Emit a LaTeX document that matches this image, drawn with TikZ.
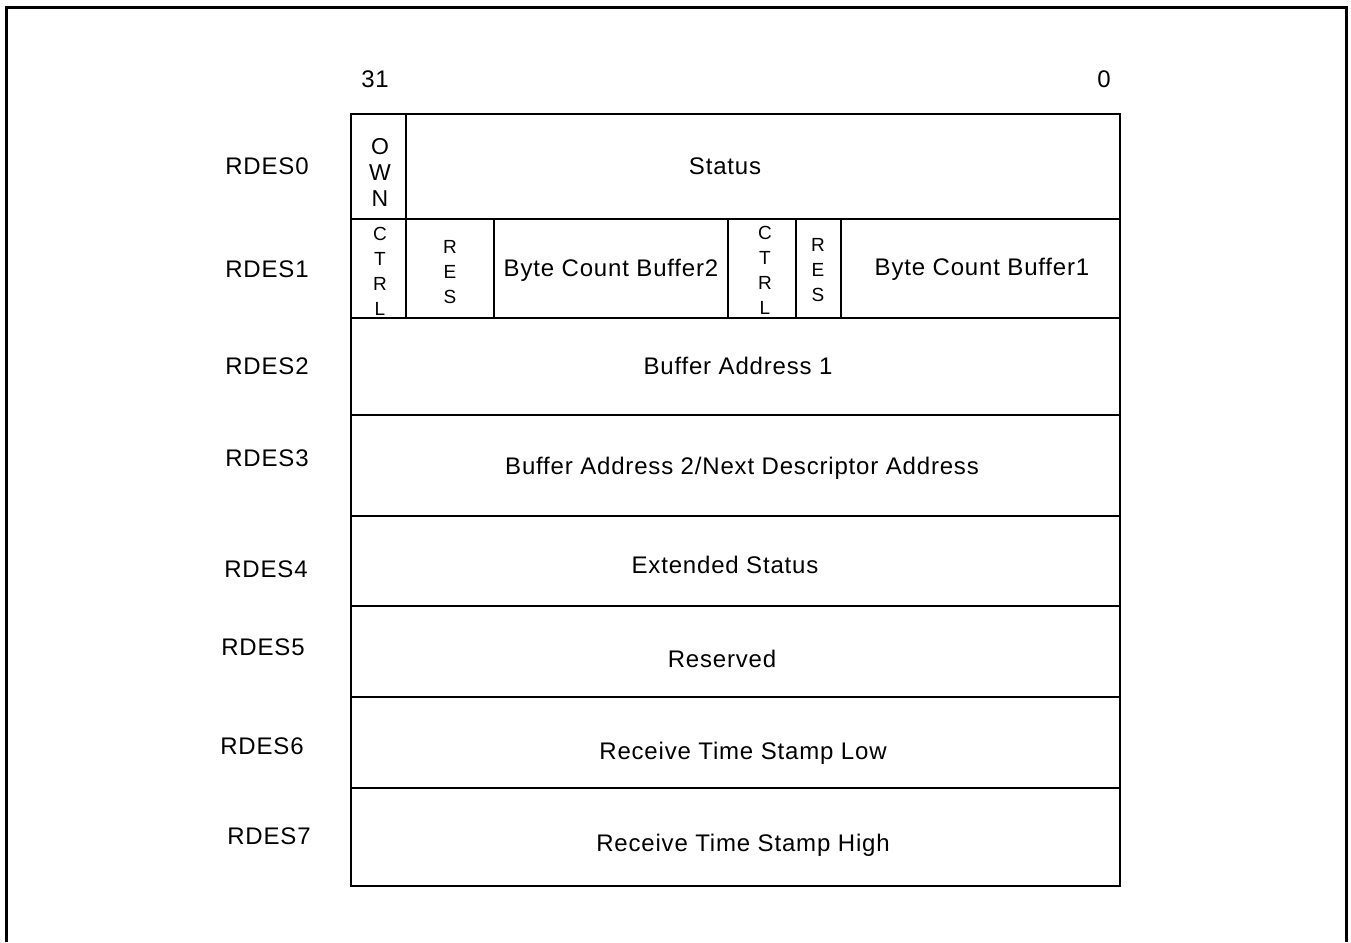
\documentclass[tikz,border=0pt]{standalone}
\usepackage{fontspec}
\setmainfont{Liberation Sans}[LetterSpace=3.4]
\begin{document}
\begin{tikzpicture}[x=1bp,y=-1bp,
  cell/.style={draw, line width=1.6bp, minimum width=#1, inner sep=0pt, outer sep=0pt},
  txt/.style={font=\fontsize{24bp}{28bp}\selectfont, inner sep=0pt},
  big/.style={font=\fontsize{23bp}{26bp}\selectfont, align=center, inner sep=0pt},
  small/.style={font=\fontsize{19bp}{25bp}\selectfont, align=center, inner sep=0pt},
  frame/.style={line width=3bp}]
\useasboundingbox (0,0) rectangle (1351,942);
% outer frame (open at bottom)
\coordinate (fbl) at (6,942);
\coordinate (ftl) at (6,7);
\coordinate (ftr) at (1346,7);
\coordinate (fbr) at (1346,942);
\draw[frame] (fbl) -- (ftl) -- (ftr) -- (fbr);
% bit numbers
\node[txt] (b31) at (375,79) {31};
\node[txt] (b0) at (1104,79) {0};
% row 0
\node[cell=55bp, minimum height=105bp] (own) at (378.5,166.5) {};
\node[cell=714bp, minimum height=105bp] (status) at (763,166.5) {};
\node[big] at (380,172) {O\\W\\N};
\node[txt] at (725,166) {Status};
% row 1
\node[cell=55bp, minimum height=99bp] (ctrl1) at (378.5,268.5) {};
\node[cell=88bp, minimum height=99bp] (res1) at (450,268.5) {};
\node[cell=234bp, minimum height=99bp] (bcb2) at (611,268.5) {};
\node[cell=68bp, minimum height=99bp] (ctrl2) at (762,268.5) {};
\node[cell=45bp, minimum height=99bp] (res2) at (818.5,268.5) {};
\node[cell=279bp, minimum height=99bp] (bcb1) at (980.5,268.5) {};
\node[small] at (380,271) {C\\T\\R\\L};
\node[small] at (450,272) {R\\E\\S};
\node[txt] at (611,270) {Byte Count Buffer2};
\node[small] at (765,270.5) {C\\T\\R\\L};
\node[small] at (818,270) {R\\E\\S};
\node[txt] at (982,269) {Byte Count Buffer1};
% rows 2-7
\node[cell=769bp, minimum height=97bp] (r2) at (735.5,366.5) {};
\node[txt] at (738,366) {Buffer Address 1};
\node[cell=769bp, minimum height=101bp] (r3) at (735.5,465.5) {};
\node[txt] at (742,468) {Buffer Address 2/Next Descriptor Address};
\node[cell=769bp, minimum height=90bp] (r4) at (735.5,561) {};
\node[txt] at (725,565) {Extended Status};
\node[cell=769bp, minimum height=91bp] (r5) at (735.5,651.5) {};
\node[txt] at (722,659) {Reserved};
\node[cell=769bp, minimum height=91bp] (r6) at (735.5,742.5) {};
\node[txt] at (743,753) {Receive Time Stamp Low};
\node[cell=769bp, minimum height=98bp] (r7) at (735.5,837) {};
\node[txt] at (743,845) {Receive Time Stamp High};
% row labels
\node[txt] (l0) at (267,166) {RDES0};
\node[txt] (l1) at (267,269) {RDES1};
\node[txt] (l2) at (267,366) {RDES2};
\node[txt] (l3) at (267,458) {RDES3};
\node[txt] (l4) at (266,569) {RDES4};
\node[txt] (l5) at (263,647) {RDES5};
\node[txt] (l6) at (262,746) {RDES6};
\node[txt] (l7) at (269,836) {RDES7};
\end{tikzpicture}
\end{document}
